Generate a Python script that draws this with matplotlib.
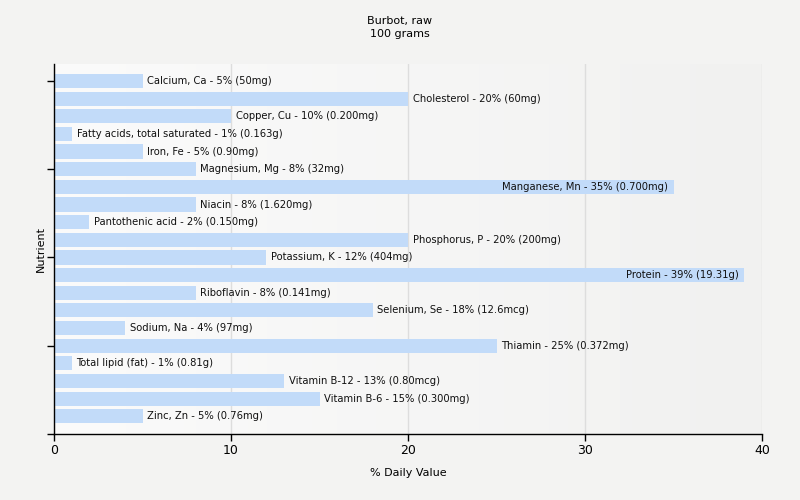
import numpy as np
import matplotlib
matplotlib.use('Agg')
import matplotlib.pyplot as plt

nutrients = ['Calcium, Ca', 'Cholesterol', 'Copper, Cu', 'Fatty acids, total saturated',
             'Iron, Fe', 'Magnesium, Mg', 'Manganese, Mn', 'Niacin', 'Pantothenic acid',
             'Phosphorus, P', 'Potassium, K', 'Protein', 'Riboflavin', 'Selenium, Se',
             'Sodium, Na', 'Thiamin', 'Total lipid (fat)', 'Vitamin B-12', 'Vitamin B-6',
             'Zinc, Zn']
daily_values = [5, 20, 10, 1, 5, 8, 35, 8, 2, 20, 12, 39, 8, 18, 4, 25, 1, 13, 15, 5]
amounts = ['50mg', '60mg', '0.200mg', '0.163g', '0.90mg', '32mg', '0.700mg', '1.620mg',
           '0.150mg', '200mg', '404mg', '19.31g', '0.141mg', '12.6mcg', '97mg', '0.372mg',
           '0.81g', '0.80mcg', '0.300mg', '0.76mg']

plt.rcParams['font.family'] = ['DejaVu Sans']

fig = plt.figure(figsize=(8, 5), dpi=100, facecolor='#f3f3f2')
ax = fig.add_axes([0.0675, 0.132, 0.885, 0.74])
ax.set_facecolor('#f3f3f2')

# horizontal gradient in the plot area
grad = np.linspace(0, 1, 256).reshape(1, -1)
ax.imshow(grad, extent=[0, 40, 20, -0.96], aspect='auto', zorder=0, interpolation='bilinear',
          cmap=matplotlib.colors.LinearSegmentedColormap.from_list('g', ['#fbfbfb', '#f1f1f0']))

ypos = np.arange(len(nutrients))
ax.barh(ypos, daily_values, height=0.8, color='#c2dbf9', zorder=2)

for y, v, name, amt in zip(ypos, daily_values, nutrients, amounts):
    label = f'{name} - {v}% ({amt})'
    if v > 30:
        ax.annotate(label, (v, y), xytext=(-4, 0), textcoords='offset points',
                    ha='right', va='center', fontsize=7.2, color='#111111', zorder=3)
    else:
        ax.annotate(label, (v, y), xytext=(3.5, 0), textcoords='offset points',
                    ha='left', va='center', fontsize=7.2, color='#111111', zorder=3)

ax.set_xlim(0, 40)
ax.set_ylim(20, -0.96)
ax.set_xticks([0, 10, 20, 30, 40])
ax.set_yticks([0, 5, 10, 15, 20])
ax.set_yticklabels([])
ax.tick_params(axis='both', length=5, width=1, labelsize=9, colors='black', pad=2)
ax.grid(axis='x', color='#dddddd', linewidth=1, zorder=1)
ax.set_axisbelow(True)
for s in ['top', 'right']:
    ax.spines[s].set_visible(False)
ax.spines['left'].set_linewidth(1)
ax.spines['bottom'].set_linewidth(1)

ax.set_xlabel('% Daily Value', fontsize=8, labelpad=8)
ax.set_ylabel('Nutrient', fontsize=8, labelpad=-1)
fig.text(0.5, 0.968, 'Burbot, raw\n100 grams', ha='center', va='top', fontsize=8,
         linespacing=1.4)

fig.savefig('out.png', dpi=100, facecolor=fig.get_facecolor())
